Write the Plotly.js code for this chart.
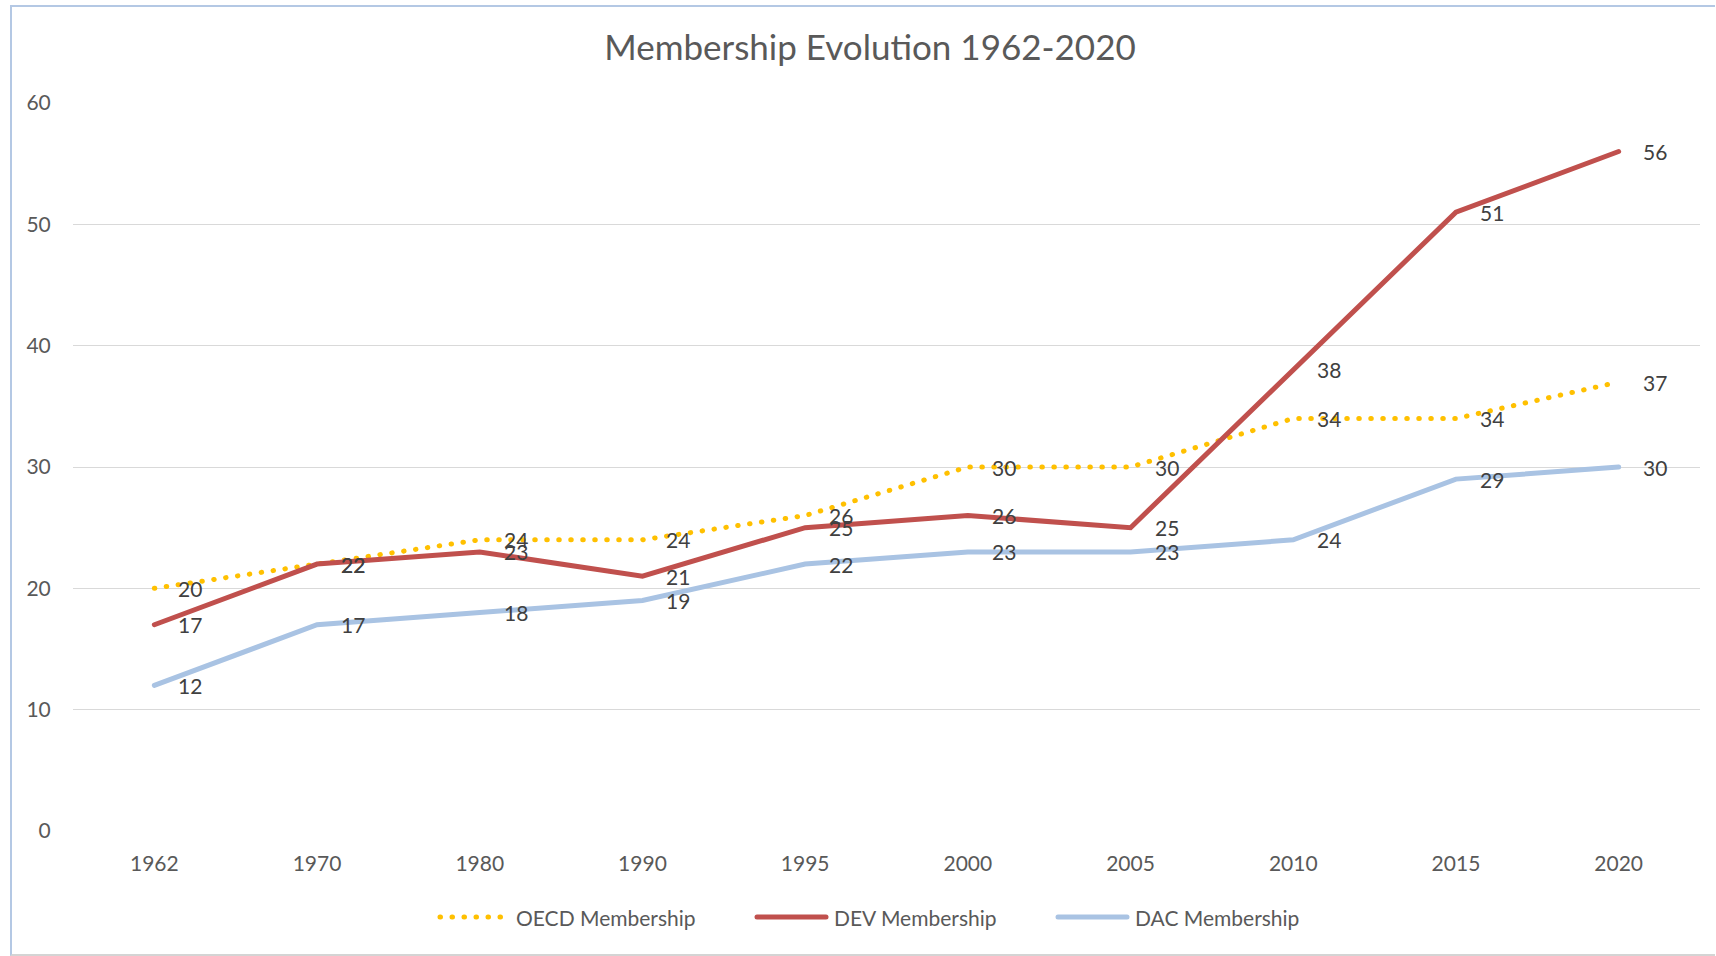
<!DOCTYPE html>
<html>
<head>
<meta charset="utf-8">
<script src="https://cdn.plot.ly/plotly-3.0.1.min.js"></script>
<style>
html, body { margin: 0; padding: 0; background: #fff; }
#wrap { position: relative; width: 1716px; height: 956px; }
#chart { position: absolute; left: 0; top: 0; width: 1716px; height: 956px; }
#frame { position: absolute; left: 10px; top: 5px; width: 1703px; height: 947px;
  border-left: 2px solid #b4c8e4; border-top: 2px solid #b4c8e4; border-bottom: 2px solid #d4d4d4;
  pointer-events: none; }
.js-line, .shapelayer path { stroke-linecap: round; }
</style>
</head>
<body>
<div id="wrap"><div id="chart"></div><div id="frame"></div></div>
<script>
const years = ["1962", "1970", "1980", "1990", "1995", "2000", "2005", "2010", "2015", "2020"];
const oecd = [20, 22, 24, 24, 26, 30, 30, 34, 34, 37];
const dev  = [17, 22, 23, 21, 25, 26, 25, 38, 51, 56];
const dac  = [12, 17, 18, 19, 22, 23, 23, 24, 29, 30];
const seriesNames = ["OECD Membership", "DEV Membership", "DAC Membership"];
const titleText = "Membership Evolution 1962-2020";
const yTicks = [0, 10, 20, 30, 40, 50, 60];

const FONT = "Lato, 'Open Sans', sans-serif";
const W = 1716, H = 956, ML = 73, MR = 16, MT = 103, MB = 125;
const PW = W - ML - MR, PH = H - MT - MB;
const px2x = p => (p - ML) / PW;
const px2y = p => (H - MB - p) / PH;

const styles = [
  { color: "#ffc000", width: 5, dash: "0.5px,11.5px" },
  { color: "#c0504d", width: 5, dash: "solid" },
  { color: "#a9c3e3", width: 5, dash: "solid" }
];
const series = [oecd, dev, dac];

const traces = series.map((arr, k) => ({
  x: years, y: arr, name: seriesNames[k], type: "scatter", mode: "lines",
  line: styles[k], hoverinfo: "y", showlegend: false
}));

const annotations = [];
series.forEach(arr => {
  arr.forEach((v, i) => {
    annotations.push({
      x: i, y: v, xref: "x", yref: "y", text: String(v),
      showarrow: false, xanchor: "left", yanchor: "middle", xshift: 22,
      font: { family: FONT, size: 21, color: "#404040" }
    });
  });
});

// custom legend (layout positions in pixels)
const legendY = 917;
const legendItems = [
  { x0: 440, x1: 506, tx: 514 },
  { x0: 757, x1: 826, tx: 832 },
  { x0: 1058, x1: 1127, tx: 1133 }
];
const shapes = [];
legendItems.forEach((it, k) => {
  shapes.push({ type: "line", xref: "paper", yref: "paper",
    x0: px2x(it.x0), x1: px2x(it.x1), y0: px2y(legendY), y1: px2y(legendY),
    line: styles[k] });
  annotations.push({ xref: "paper", yref: "paper", x: px2x(it.tx), y: px2y(legendY),
    xanchor: "left", yanchor: "middle", showarrow: false, text: seriesNames[k],
    font: { family: FONT, size: 21, color: "#595959" } });
});

const layout = {
  width: W, height: H,
  paper_bgcolor: "rgba(0,0,0,0)", plot_bgcolor: "rgba(0,0,0,0)",
  margin: { l: ML, r: MR, t: MT, b: MB, pad: 0 },
  title: { text: titleText, font: { family: FONT, size: 35, color: "#595959" },
    x: px2x(870), xref: "paper", xanchor: "center", y: 1 - 48 / H, yref: "container", yanchor: "middle" },
  xaxis: { type: "category", range: [-0.5, 9.5], showgrid: false, zeroline: false,
    showline: false, ticks: "outside", ticklen: 14, tickcolor: "rgba(0,0,0,0)",
    tickfont: { family: FONT, size: 21, color: "#595959" }, fixedrange: true },
  yaxis: { range: [0, 60], tickvals: yTicks, showgrid: true, gridcolor: "#d9d9d9", gridwidth: 1,
    zeroline: false, showline: false, ticks: "outside", ticklen: 17, tickcolor: "rgba(0,0,0,0)",
    tickfont: { family: FONT, size: 21, color: "#595959" }, fixedrange: true },
  showlegend: false,
  shapes: shapes,
  annotations: annotations
};

Plotly.newPlot("chart", traces, layout, { displayModeBar: false, staticPlot: true });
</script>
</body>
</html>
